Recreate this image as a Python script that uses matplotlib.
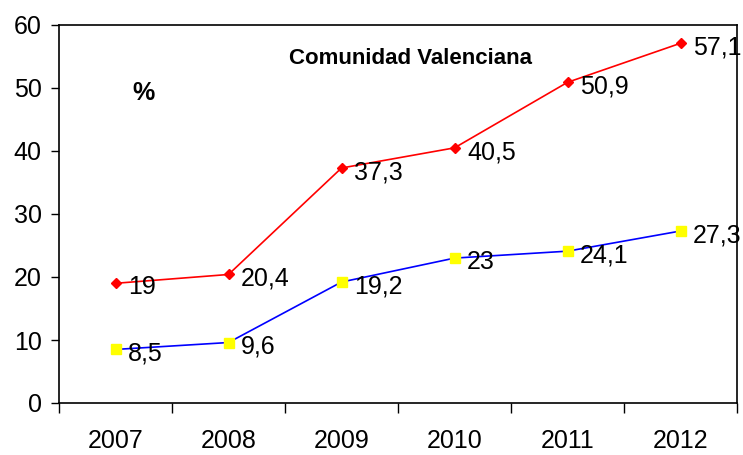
import matplotlib
matplotlib.use("Agg")
import matplotlib.pyplot as plt
import numpy as np

years = ["2007", "2008", "2009", "2010", "2011", "2012"]
red_vals = [19, 20.4, 37.3, 40.5, 50.9, 57.1]
blue_vals = [8.5, 9.6, 19.2, 23, 24.1, 27.3]

plt.rcParams['font.family'] = ['Liberation Sans', 'DejaVu Sans']

fig = plt.figure(figsize=(7.43, 4.55), dpi=100)
ax = fig.add_axes([59/743, 52/455, (737-59)/743, (403-25)/455])

x = np.arange(len(years))
ax.plot(x, red_vals, color='#ff0000', lw=1.2, marker='D', ms=5.5,
        mfc='#ff0000', mec='#ff0000', zorder=3, clip_on=False)
ax.plot(x, blue_vals, color='#0000ff', lw=1.2, marker='s', ms=6.5,
        mfc='#ffff00', mec='#ffff00', zorder=3, clip_on=False)

def fmt(v):
    return ('%g' % v).replace('.', ',')

for xi, v in zip(x, red_vals):
    ax.annotate(fmt(v), (xi, v), xytext=(9, -3), textcoords='offset points',
                ha='left', va='center', fontsize=18, annotation_clip=False)
for xi, v in zip(x, blue_vals):
    ax.annotate(fmt(v), (xi, v), xytext=(9, -3), textcoords='offset points',
                ha='left', va='center', fontsize=18, annotation_clip=False)

ax.set_xlim(-0.5, len(years) - 0.5)
ax.set_ylim(0, 60)
ax.set_yticks(range(0, 61, 10))
ax.tick_params(axis='y', labelsize=18, length=5.5, width=1, direction='out', pad=7)
ax.set_xticks(np.arange(-0.5, len(years), 1.0))
ax.set_xticklabels([])
ax.tick_params(axis='x', which='major', length=7, width=1, direction='out')
ax.set_xticks(x, minor=True)
ax.set_xticklabels(years, minor=True)
ax.tick_params(axis='x', which='minor', length=0, labelsize=18, pad=19)

for s in ax.spines.values():
    s.set_linewidth(1.2)
    s.set_color('black')

ax.text(0.518, 0.912, "Comunidad Valenciana", transform=ax.transAxes,
        ha='center', va='center', fontsize=16, fontweight='bold')
ax.text(0.125, 0.82, "%", transform=ax.transAxes, ha='center', va='center',
        fontsize=18, fontweight='bold')

fig.savefig("out.png", dpi=100)
